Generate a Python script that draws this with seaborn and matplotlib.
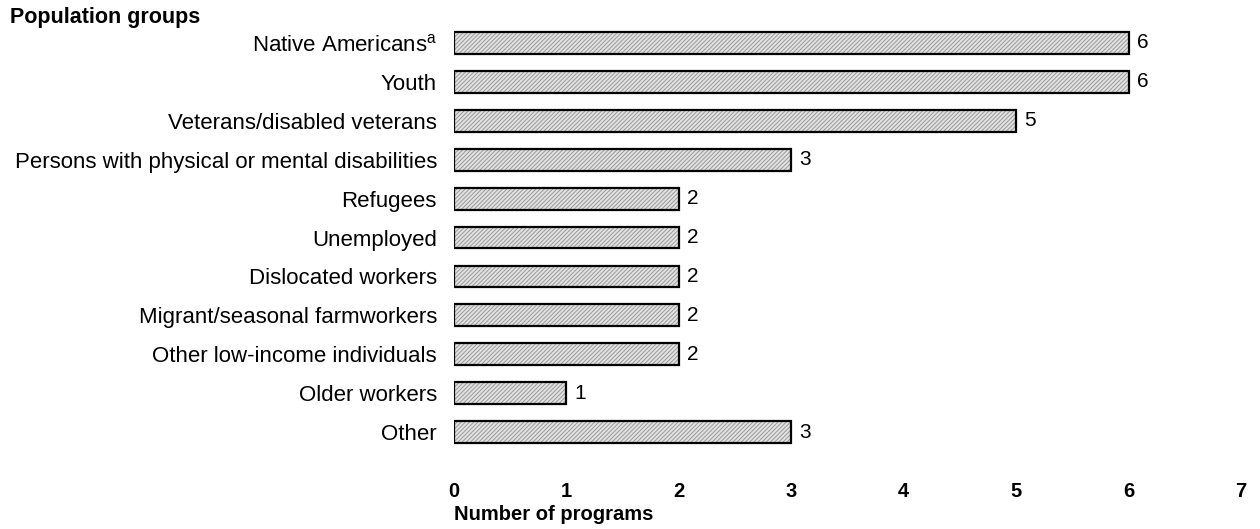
import matplotlib
matplotlib.use("Agg")
import matplotlib.pyplot as plt
import seaborn as sns
import pandas as pd

# data
groups = [
    r"Native Americans$^{\mathrm{a}}$",
    "Youth",
    "Veterans/disabled veterans",
    "Persons with physical or mental disabilities",
    "Refugees",
    "Unemployed",
    "Dislocated workers",
    "Migrant/seasonal farmworkers",
    "Other low-income individuals",
    "Older workers",
    "Other",
]
programs = [6, 6, 5, 3, 2, 2, 2, 2, 2, 1, 3]
x_ticks = [0, 1, 2, 3, 4, 5, 6, 7]

df = pd.DataFrame({"group": groups, "programs": programs})

sns.set_theme(style="white")
plt.rcParams["font.family"] = ["Liberation Sans", "DejaVu Sans"]
plt.rcParams["mathtext.fontset"] = "custom"
plt.rcParams["mathtext.rm"] = "Liberation Sans"
plt.rcParams["hatch.linewidth"] = 0.7
plt.rcParams["text.color"] = "black"
plt.rcParams["xtick.color"] = "black"
plt.rcParams["ytick.color"] = "black"
plt.rcParams["axes.labelcolor"] = "black"

fig = plt.figure(figsize=(12.6, 5.29), dpi=100)
ax = fig.add_axes([0.360, 0.1465, 0.625, 0.809])

# stippled fill
sns.barplot(data=df, x="programs", y="group", orient="h", width=0.56,
            color="#e2e2e2", saturation=1, ax=ax)
for p in ax.patches:
    p.set_hatch("////////")
    p.set_edgecolor("#9a9a9a")
    p.set_linewidth(0)

# black outlines
sns.barplot(data=df, x="programs", y="group", orient="h", width=0.56,
            fill=False, color="black", linewidth=1.6, ax=ax)

ax.bar_label(ax.containers[-1], labels=[str(v) for v in programs],
             padding=6, fontsize=15, color="black")

ax.set_xlim(0, 7)
ax.set_ylim(10.5, -0.5)
ax.set_xticks(x_ticks)
ax.set_xticklabels([str(t) for t in x_ticks], fontsize=14.5, fontweight="bold")
ax.tick_params(axis="x", length=0, pad=22)
ax.tick_params(axis="y", length=0, pad=12, labelsize=16)
ax.set_ylabel("")
ax.set_xlabel("Number of programs", fontsize=14.5, fontweight="bold",
              loc="left", labelpad=3)
sns.despine(ax=ax, left=True, bottom=True)

fig.text(0.008, 1 - 17 / 529, "Population groups", fontsize=15.5,
         fontweight="bold", va="center", ha="left")

fig.savefig("out.png", dpi=100)
